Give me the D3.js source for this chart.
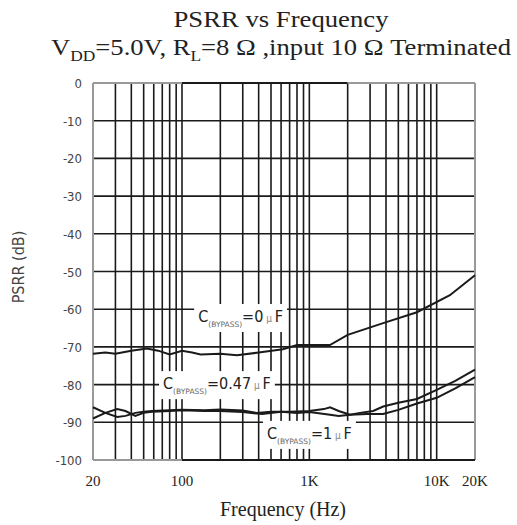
<!DOCTYPE html>
<html>
<head>
<meta charset="utf-8">
<script src="https://cdn.jsdelivr.net/npm/d3@7"></script>
<style>
  body { margin: 0; background: #fff; }
  svg { display: block; }
</style>
</head>
<body>
<svg id="chart"></svg>
<script>
// frequency (Hz) / PSRR (dB)
const bypass0 = [[20,-71.8],[25,-71.5],[30,-71.8],[40,-71],[53,-70.4],[65,-71],[80,-72],[100,-71],[120,-71.5],[140,-72],[200,-71.8],[270,-72.2],[400,-71.5],[620,-70.6],[800,-69.5],[1450,-69.5],[2000,-66.8],[3800,-63.7],[7000,-60.8],[12700,-56.3],[20000,-51]];
const bypass047 = [[20,-86],[25,-87.5],[31,-88.6],[36,-88.3],[43,-87.5],[50,-87.2],[58,-87],[80,-86.8],[100,-86.7],[150,-86.8],[200,-86.6],[300,-86.9],[387,-87.5],[500,-87.2],[700,-87.2],[1000,-87],[1300,-86.5],[1455,-86],[1700,-87],[2090,-88],[2500,-87.5],[3170,-87],[3800,-85.8],[5000,-84.8],[7000,-83.8],[10000,-81.4],[14000,-79],[20000,-76]];
const bypass1 = [[20,-89],[25,-87.5],[31,-86.5],[36,-87],[43,-88.3],[50,-87.5],[58,-87.2],[80,-87],[100,-86.8],[150,-87],[200,-87],[300,-87.3],[425,-87.8],[600,-87.2],[800,-87.5],[1000,-87.3],[1455,-88],[1700,-88.3],[2090,-88],[2840,-87.8],[3800,-87.8],[5000,-86.7],[7000,-85],[10000,-83.5],[14000,-81],[20000,-78]];

const xTickValues = [20, 100, 1000, 10000, 20000];
const xTickLabels = ["20", "100", "1K", "10K", "20K"];
const yTickValues = [0, -10, -20, -30, -40, -50, -60, -70, -80, -90, -100];

// label anchors: [freq, dB, value text]
const labels = [[134, -63.4, "=0"], [71, -81.2, "=0.47"], [465, -94.4, "=1"]];

const width = 517, height = 525;
const plotLeft = 93, plotRight = 475, plotTop = 83, plotBottom = 460;

const svg = d3.select("#chart")
    .attr("width", width)
    .attr("height", height);

const x = d3.scaleLog().domain([20, 20000]).range([plotLeft, plotRight]);
const y = d3.scaleLinear().domain([0, -100]).range([plotTop, plotBottom]);

// title
svg.append("text")
    .attr("x", 281).attr("y", 27)
    .attr("text-anchor", "middle")
    .attr("textLength", 215)
    .attr("lengthAdjust", "spacingAndGlyphs")
    .style("font-family", "Liberation Serif, serif")
    .style("font-size", "23px")
    .style("fill", "#222")
    .text("PSRR vs Frequency");

const sub = svg.append("text")
    .attr("x", 281).attr("y", 55)
    .attr("text-anchor", "middle")
    .attr("textLength", 460)
    .attr("lengthAdjust", "spacingAndGlyphs")
    .style("font-family", "Liberation Serif, serif")
    .style("font-size", "23px")
    .style("fill", "#222");
sub.append("tspan").text("V");
sub.append("tspan").attr("dy", 6).style("font-size", "15px").text("DD");
sub.append("tspan").attr("dy", -6).text("=5.0V, R");
sub.append("tspan").attr("dy", 6).style("font-size", "15px").text("L");
sub.append("tspan").attr("dy", -6).text("=8 Ω ,input 10 Ω  Terminated");

// grid
const vLines = [];
for (let dec = 10; dec <= 10000; dec *= 10) {
    for (let m = 1; m <= 9; m++) {
        const f = dec * m;
        if (f > 20 && f < 20000) vLines.push(f);
    }
}
const grid = svg.append("g");
grid.selectAll(".v")
    .data(vLines)
    .enter().append("line")
    .attr("x1", d => x(d)).attr("x2", d => x(d))
    .attr("y1", plotTop).attr("y2", plotBottom)
    .style("stroke", "#1a1a1a")
    .style("stroke-width", 1.6);
grid.selectAll(".h")
    .data(yTickValues.slice(1, -1))
    .enter().append("line")
    .attr("x1", plotLeft).attr("x2", plotRight)
    .attr("y1", d => y(d)).attr("y2", d => y(d))
    .style("stroke", "#1a1a1a")
    .style("stroke-width", 1.6);

// frame
const frame = [
    [20, 0, 100, 0, "#999"], [100, 0, 2000, 0, "#1a1a1a"], [2000, 0, 20000, 0, "#999"],
    [20, 0, 20, -100, "#999"], [20000, 0, 20000, -100, "#999"],
    [20, -100, 100, -100, "#999"], [100, -100, 20000, -100, "#1a1a1a"]
];
grid.selectAll(".frame")
    .data(frame)
    .enter().append("line")
    .attr("x1", d => x(d[0])).attr("y1", d => y(d[1]))
    .attr("x2", d => x(d[2])).attr("y2", d => y(d[3]))
    .style("stroke", d => d[4])
    .style("stroke-width", 2);

// label boxes
const labelG = svg.selectAll(".lbl")
    .data(labels)
    .enter().append("g")
    .attr("class", "lbl")
    .attr("transform", d => `translate(${x(d[0])} ${y(d[1])})`);
labelG.append("rect").style("fill", "#fff");
const lblText = labelG.append("text")
    .style("font-family", "DejaVu Sans Condensed, DejaVu Sans, sans-serif")
    .style("font-size", "16px")
    .style("fill", "#222");
lblText.append("tspan").text("C");
lblText.append("tspan").attr("dy", 5).style("font-family", "DejaVu Sans, sans-serif")
    .style("font-size", "7.5px").style("fill", "#666").text("(BYPASS)");
lblText.append("tspan").attr("dy", -5).text(d => d[2]);
lblText.append("tspan").style("font-size", "10px").style("fill", "#888").text(" µ ");
lblText.append("tspan").text("F");
lblText.each(function () {
    const b = this.getBBox();
    d3.select(this.parentNode).select("rect")
        .attr("x", b.x - 4).attr("y", b.y - 3)
        .attr("width", b.width + 8).attr("height", b.height + 6);
});

// curves
const line = d3.line()
    .x(d => x(d[0]))
    .y(d => y(d[1]));
svg.selectAll(".curve")
    .data([bypass0, bypass047, bypass1])
    .enter().append("path")
    .attr("d", line)
    .style("fill", "none")
    .style("stroke", "#1a1a1a")
    .style("stroke-width", 2);

// y tick labels
svg.selectAll(".ytick")
    .data(yTickValues)
    .enter().append("text")
    .attr("x", 82)
    .attr("y", d => y(d) + 5)
    .attr("text-anchor", "end")
    .style("font-family", "DejaVu Sans Condensed, DejaVu Sans, sans-serif")
    .style("font-size", "13px")
    .style("fill", "#444")
    .text(d => d);

// x tick labels
svg.selectAll(".xtick")
    .data(xTickValues)
    .enter().append("text")
    .attr("x", d => x(d))
    .attr("y", 486)
    .attr("text-anchor", "middle")
    .style("font-family", "Liberation Serif, serif")
    .style("font-size", "15px")
    .style("fill", "#222")
    .text((d, i) => xTickLabels[i]);

// axis titles
svg.append("text")
    .attr("x", 283).attr("y", 516)
    .attr("text-anchor", "middle")
    .style("font-family", "Liberation Serif, serif")
    .style("font-size", "20px")
    .style("fill", "#222")
    .text("Frequency (Hz)");

svg.append("text")
    .attr("transform", "translate(24 267) rotate(-90)")
    .attr("text-anchor", "middle")
    .style("font-family", "DejaVu Sans Condensed, DejaVu Sans, sans-serif")
    .style("font-size", "16px")
    .style("fill", "#444")
    .text("PSRR (dB)");
</script>
</body>
</html>
